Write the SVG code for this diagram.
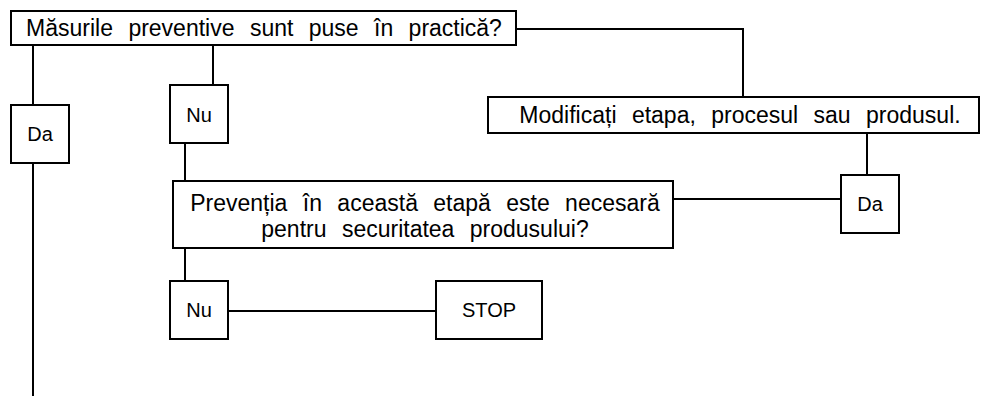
<svg xmlns="http://www.w3.org/2000/svg" width="988" height="396" viewBox="0 0 988 396">
<style>
.box{fill:#fff;stroke:#000;stroke-width:2}
.ln{fill:none;stroke:#000;stroke-width:2}
.t{font-family:"Liberation Sans",Arial,sans-serif;font-size:23px;fill:#000;text-anchor:middle;word-spacing:9px}
.s{font-family:"Liberation Sans",Arial,sans-serif;font-size:20px;fill:#000;text-anchor:middle}
</style>
<rect width="988" height="396" fill="#fff"/>
<g id="connectors">
<path class="ln" d="M516 29 H743 V97"/>
<path class="ln" d="M33 45 V105 M33 163 V396"/>
<path class="ln" d="M213 45 V85"/>
<path class="ln" d="M185 143 V181"/>
<path class="ln" d="M867 133 V175"/>
<path class="ln" d="M673 199 H841"/>
<path class="ln" d="M185 248 V281"/>
<path class="ln" d="M228 311 H436"/>
</g>
<g id="q1"><rect class="box" x="11" y="11" width="505" height="34"/><text class="t" x="264" y="36">Măsurile preventive sunt puse în practică?</text></g>
<g id="da1"><rect class="box" x="11" y="105" width="58" height="58"/><text class="s" x="40" y="141">Da</text></g>
<g id="nu1"><rect class="box" x="170" y="85" width="58" height="58"/><text class="s" x="199" y="122">Nu</text></g>
<g id="mod"><rect class="box" x="488" y="97" width="491" height="36"/><text class="t" x="740" y="123">Modificați etapa, procesul sau produsul.</text></g>
<g id="q2"><rect class="box" x="173" y="181" width="500" height="67"/><text class="t" x="425" y="211">Prevenția în această etapă este necesară</text><text class="t" x="425" y="237">pentru securitatea produsului?</text></g>
<g id="da2"><rect class="box" x="841" y="175" width="58" height="58"/><text class="s" x="870" y="211">Da</text></g>
<g id="nu2"><rect class="box" x="170" y="281" width="58" height="58"/><text class="s" x="199" y="317">Nu</text></g>
<g id="stop"><rect class="box" x="436" y="281" width="106" height="58"/><text class="s" x="489" y="317">STOP</text></g>
</svg>
